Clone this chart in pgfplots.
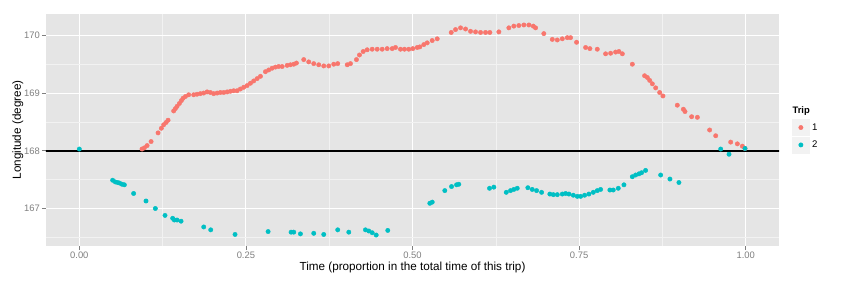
\documentclass[border=0pt]{standalone}
\usepackage{pgfplots}
\pgfplotsset{compat=1.18}
\usepackage{fontspec}
\setmainfont{Liberation Sans}
\definecolor{panelbg}{HTML}{E5E5E5}
\definecolor{minorgrid}{HTML}{F2F2F2}
\definecolor{legbg}{HTML}{F2F2F2}
\definecolor{tickgray}{HTML}{7F7F7F}
\definecolor{tripA}{HTML}{F8766D}
\definecolor{tripB}{HTML}{00BFC4}
\begin{document}
\begin{tikzpicture}
\path[use as bounding box] (-46bp,-36bp) rectangle (799bp,246bp);
\begin{axis}[
  at={(0,0)}, anchor=south west,
  scale only axis, width=733bp, height=232bp,
  xmin=-0.05, xmax=1.05, ymin=166.35, ymax=170.37,
  clip mode=individual,
  axis background/.style={fill=panelbg},
  axis line style={draw=none},
  xtick={0,0.25,0.5,0.75,1},
  xticklabels={0.00,0.25,0.50,0.75,1.00},
  ytick={167,168,169,170},
  minor xtick={0.125,0.375,0.625,0.875},
  minor ytick={166.5,167.5,168.5,169.5},
  xtick pos=bottom, ytick pos=left,
  tick align=outside,
  major tick length=4bp, minor tick length=0pt,
  every tick/.style={tickgray, line width=0.6bp},
  grid=both,
  major grid style={white, line width=1.1bp},
  minor grid style={minorgrid, line width=0.55bp},
  /pgf/number format/assume math mode=true,
  ticklabel style={font=\fontsize{9.4bp}{11bp}\selectfont, text=tickgray},
  yticklabel style={inner sep=2bp},
  xticklabel style={inner sep=2bp},
  every axis x label/.style={at={(axis description cs:0.5,-0.093)}, anchor=center},
  every axis y label/.style={at={(axis description cs:-0.0385,0.5)}, anchor=center, rotate=90},
  label style={font=\fontsize{11.7bp}{14bp}\selectfont},
  xlabel={Time (proportion in the total time of this trip)},
  ylabel={Longitude (degree)},
  legend style={at={(axis description cs:1.0182,0.546)}, anchor=north west,
    draw=none, fill=none, inner sep=0pt, outer sep=0pt, row sep=1bp,
    font=\fontsize{9.6bp}{11bp}\selectfont,
    nodes={inner sep=2.8bp}},
  legend cell align=left,
  legend image code/.code={
    \fill[legbg] (0bp,-8bp) rectangle (16.7bp,8bp);
    \draw[mark repeat=2,mark phase=2,#1] plot coordinates {(0bp,0bp) (8.35bp,0bp) (16.7bp,0bp)};
  },
]
\addplot[black, line width=2bp, forget plot] coordinates {(-0.06,168) (1.06,168)};
\addplot[only marks, mark=*, mark size=2.2bp, color=tripA, mark options={solid, draw=tripA, fill=tripA}] coordinates {
(0.0941,168.03) (0.0976,168.05) (0.1017,168.09) (0.1077,168.16) (0.1182,168.31)
(0.1231,168.39) (0.1266,168.45) (0.1302,168.49) (0.1332,168.53) (0.1416,168.69)
(0.1441,168.73) (0.1467,168.77) (0.1502,168.82) (0.1532,168.87) (0.1557,168.91)
(0.1592,168.94) (0.1641,168.97) (0.1716,168.97) (0.1767,168.98) (0.1817,168.99)
(0.1866,169.00) (0.1917,169.02) (0.1967,169.01) (0.2017,168.99) (0.2068,169.00)
(0.2117,169.01) (0.2167,169.01) (0.2218,169.02) (0.2267,169.03) (0.2317,169.04)
(0.2368,169.04) (0.2417,169.07) (0.2467,169.10) (0.2518,169.13) (0.2568,169.17)
(0.2617,169.21) (0.2668,169.25) (0.2718,169.29) (0.2793,169.37) (0.2842,169.40)
(0.2893,169.43) (0.2943,169.45) (0.2992,169.46) (0.3044,169.46) (0.3119,169.48)
(0.3168,169.49) (0.3218,169.50) (0.3258,169.52) (0.3368,169.58) (0.3443,169.54)
(0.3518,169.51) (0.3593,169.49) (0.3668,169.47) (0.3743,169.47) (0.3818,169.50)
(0.3878,169.51) (0.4020,169.49) (0.4069,169.51) (0.4159,169.58) (0.4204,169.66)
(0.4260,169.72) (0.4320,169.75) (0.4395,169.76) (0.4470,169.76) (0.4545,169.76)
(0.4620,169.77) (0.4695,169.77) (0.4745,169.79) (0.4820,169.76) (0.4880,169.76)
(0.4944,169.76) (0.5005,169.77) (0.5071,169.79) (0.5110,169.80) (0.5170,169.84)
(0.5221,169.87) (0.5296,169.91) (0.5371,169.94) (0.5581,170.05) (0.5646,170.10)
(0.5721,170.13) (0.5796,170.11) (0.5871,170.07) (0.5946,170.06) (0.6021,170.05)
(0.6096,170.05) (0.6161,170.05) (0.6296,170.06) (0.6446,170.13) (0.6521,170.16)
(0.6596,170.17) (0.6671,170.18) (0.6746,170.18) (0.6812,170.16) (0.6847,170.13)
(0.6971,170.03) (0.7098,169.93) (0.7173,169.92) (0.7248,169.94) (0.7323,169.96)
(0.7372,169.96) (0.7462,169.88) (0.7598,169.79) (0.7662,169.77) (0.7773,169.76)
(0.7898,169.68) (0.7973,169.69) (0.8048,169.71) (0.8098,169.72) (0.8149,169.68)
(0.8299,169.50) (0.8483,169.30) (0.8524,169.27) (0.8559,169.22) (0.8599,169.16)
(0.8649,169.09) (0.8709,169.01) (0.8758,168.95) (0.8974,168.79) (0.9065,168.72)
(0.9089,168.68) (0.9189,168.59) (0.9275,168.58) (0.9459,168.36) (0.9550,168.26)
(0.9775,168.15) (0.9875,168.12) (0.9950,168.08) (0.9990,168.04)
};
\addlegendentry{1}
\addplot[only marks, mark=*, mark size=2.2bp, color=tripB, mark options={solid, draw=tripB, fill=tripB}] coordinates {
(0.0000,168.03) (0.0500,167.49) (0.0540,167.46) (0.0575,167.45) (0.0605,167.44)
(0.0641,167.42) (0.0676,167.41) (0.0815,167.26) (0.1001,167.13) (0.1141,167.00)
(0.1286,166.88) (0.1401,166.83) (0.1426,166.80) (0.1467,166.80) (0.1527,166.78)
(0.1867,166.68) (0.1972,166.63) (0.2337,166.55) (0.2833,166.60) (0.3178,166.59)
(0.3218,166.59) (0.3318,166.56) (0.3518,166.57) (0.3668,166.55) (0.3878,166.63)
(0.4044,166.59) (0.4294,166.63) (0.4344,166.61) (0.4395,166.58) (0.4455,166.54)
(0.4629,166.62) (0.5260,167.09) (0.5296,167.11) (0.5485,167.31) (0.5586,167.38)
(0.5661,167.41) (0.5695,167.42) (0.6156,167.35) (0.6221,167.37) (0.6407,167.28)
(0.6471,167.31) (0.6521,167.33) (0.6572,167.35) (0.6731,167.36) (0.6797,167.33)
(0.6862,167.31) (0.6937,167.28) (0.7061,167.25) (0.7113,167.24) (0.7173,167.24)
(0.7248,167.25) (0.7297,167.26) (0.7347,167.25) (0.7413,167.23) (0.7473,167.21)
(0.7523,167.21) (0.7583,167.23) (0.7647,167.25) (0.7713,167.28) (0.7773,167.31)
(0.7823,167.33) (0.7962,167.32) (0.8013,167.32) (0.8088,167.35) (0.8173,167.41)
(0.8299,167.55) (0.8348,167.58) (0.8398,167.60) (0.8438,167.62) (0.8498,167.66)
(0.8724,167.58) (0.8863,167.51) (0.8998,167.45) (0.9625,168.03) (0.9750,167.94)
(0.9990,168.04)
};
\addlegendentry{2}
\node[anchor=west, inner sep=0pt, font=\fontsize{9.4bp}{11bp}\selectfont\bfseries] at (axis description cs:1.0182,0.583) {Trip};
\end{axis}
\end{tikzpicture}
\end{document}
